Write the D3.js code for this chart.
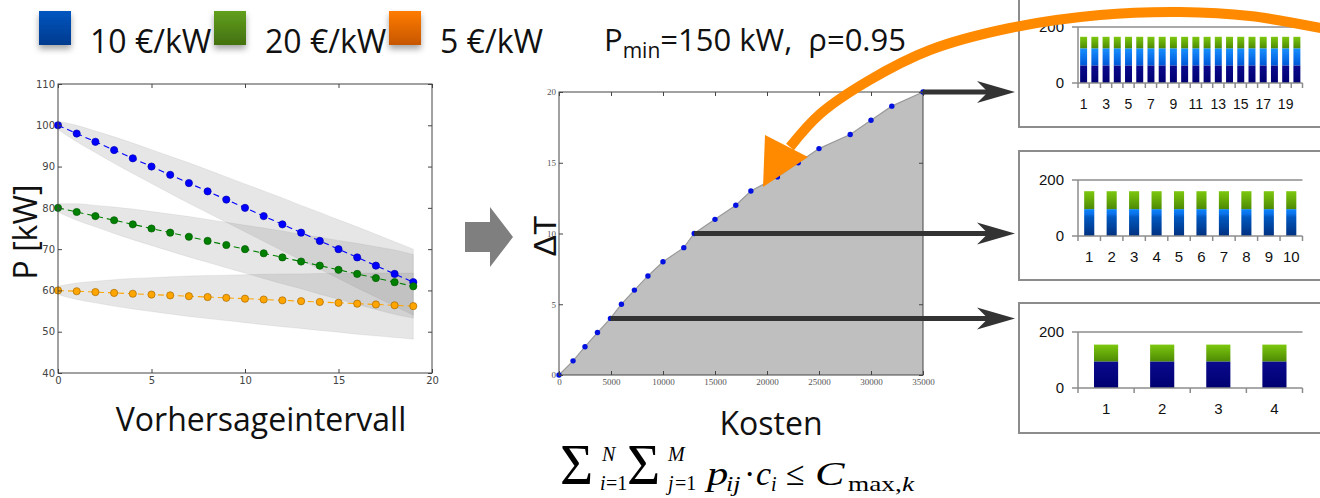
<!DOCTYPE html>
<html>
<head>
<meta charset="utf-8">
<script src="https://cdn.jsdelivr.net/npm/d3@7"></script>
<style>
body { margin: 0; background: #fff; }
text { white-space: pre; }
</style>
</head>
<body>
<div id="chart"></div>
<script>
// legend
var tariffs = ['10 €/kW', '20 €/kW', '5 €/kW'];

// left chart: forecast per interval
var intervals = [0,1,2,3,4,5,6,7,8,9,10,11,12,13,14,15,16,17,18,19];
var p10 = [100,98,96,94,92,90,88,86,84,82,80,78,76,74,72,70,68,66,64,62];
var p10Hi = [101,100,98.6,97.2,95.7,94.1,92.5,90.9,89.2,87.5,85.8,84.1,82.4,80.6,78.9,77.1,75.4,73.6,71.8,70];
var p10Lo = [99,96,93.4,90.8,88.3,85.9,83.5,81.1,78.8,76.5,74.2,71.9,69.6,67.4,65.1,62.9,60.6,58.4,56.2,54];
var p20 = [80,79,78,77,76,75,74,73,72,71,70,69,68,67,66,65,64,63,62,61];
var p20Hi = [81,81,80.6,80.2,79.7,79.1,78.5,77.9,77.2,76.5,75.8,75.1,74.4,73.6,72.9,72.1,71.4,70.6,69.8,68.7];
var p20Lo = [79,77,75.4,73.8,72.3,70.9,69.5,68.1,66.8,65.5,64.2,62.9,61.6,60.4,59.1,57.9,56.6,55.4,54.2,53.3];
var p5 = [60,59.8,59.6,59.4,59.2,59,58.8,58.6,58.4,58.2,58,57.8,57.6,57.4,57.2,57,56.8,56.6,56.4,56.2];
var p5Hi = [61,61.8,62.2,62.6,62.9,63.1,63.3,63.5,63.6,63.7,63.8,63.9,64,64,64.1,64.1,64.2,64.2,64.2,64.2];
var p5Lo = [59,57.8,57,56.2,55.5,54.9,54.3,53.7,53.2,52.7,52.2,51.7,51.2,50.8,50.3,49.9,49.4,49,48.6,48.2];
var leftXTicks = [0,5,10,15,20];
var leftYTicks = [40,50,60,70,80,90,100,110];

// middle chart: cost vs delta T
var cost = [0,1350,2500,3700,4950,6000,7250,8550,10000,12000,13000,15000,17000,18450,21000,23000,25000,28000,30000,32000,35000];
var deltaT = [0,1,2,3,4,5,6,7,8,9,10,11,12,13,14,15,16,17,18,19,20];
var midXTicks = [0,5000,10000,15000,20000,25000,30000,35000];
var midYTicks = [0,5,10,15,20];

// right: three bar splits
var cats20 = ['1','2','3','4','5','6','7','8','9','10','11','12','13','14','15','16','17','18','19','20'];
var s20Navy = [63,63,63,63,63,63,63,63,63,63,63,63,63,63,63,63,63,63,63,63];
var s20Blue = [61,61,61,61,61,61,61,61,61,61,61,61,61,61,61,61,61,61,61,61];
var s20Green = [41,41,41,41,41,41,41,41,41,41,41,41,41,41,41,41,41,41,41,41];
var cats10 = ['1','2','3','4','5','6','7','8','9','10'];
var s10Blue = [96,96,96,96,96,96,96,96,96,96];
var s10Green = [64,64,64,64,64,64,64,64,64,64];
var cats4 = ['1','2','3','4'];
var s4Navy = [95,95,95,95];
var s4Green = [60,60,60,60];
var barTicks = [0, 200];

var svg = d3.select('#chart').append('svg')
  .attr('width', 1320).attr('height', 498)
  .style('font-family', '"Open Sans", sans-serif');
svg.append('rect').attr('width', 1320).attr('height', 498).attr('fill', '#fff');

var defs = svg.append('defs');
function vgrad(id, stops) {
  var g = defs.append('linearGradient').attr('id', id)
    .attr('x1', 0).attr('y1', 0).attr('x2', 0).attr('y2', 1);
  stops.forEach(function(s) {
    g.append('stop').attr('offset', s[0]).attr('stop-color', s[1]);
  });
}
vgrad('lgBlue', [['0%', '#0056c0'], ['100%', '#003a8e']]);
vgrad('lgGreen', [['0%', '#62a01e'], ['100%', '#43700f']]);
vgrad('lgOrange', [['0%', '#ff7c00'], ['100%', '#c65600']]);
vgrad('bNavy', [['0%', '#0a0a8e'], ['100%', '#000070']]);
vgrad('bBlue', [['0%', '#1890ff'], ['100%', '#0058d8']]);
vgrad('bBlue2', [['0%', '#0a84ff'], ['18%', '#0a70e8'], ['30%', '#0058c0'], ['100%', '#00307e']]);
vgrad('bGreen', [['0%', '#7cc80e'], ['100%', '#4e8a04']]);
var sh = defs.append('filter').attr('id', 'shadow').attr('x', '-30%').attr('y', '-30%').attr('width', '160%').attr('height', '170%');
sh.append('feDropShadow').attr('dx', 0).attr('dy', 4).attr('stdDeviation', 3)
  .attr('flood-color', '#000').attr('flood-opacity', 0.35);

// ---- legend
var legFill = ['url(#lgBlue)', 'url(#lgGreen)', 'url(#lgOrange)'];
var legX = d3.scalePoint().domain(tariffs).range([39, 389]);
var leg = svg.append('g');
leg.selectAll('rect').data(tariffs).enter().append('rect')
  .attr('x', function(d) { return legX(d); }).attr('y', 11)
  .attr('width', 32).attr('height', 34)
  .attr('fill', function(d, i) { return legFill[i]; })
  .attr('filter', 'url(#shadow)');
leg.selectAll('text').data(tariffs).enter().append('text')
  .attr('x', function(d) { return legX(d) + 51; }).attr('y', 53)
  .attr('font-size', 32).attr('fill', '#111')
  .text(function(d) { return d; });

var pm = svg.append('text').attr('x', 604).attr('y', 51).attr('font-size', 31).attr('fill', '#111');
pm.append('tspan').text('P');
pm.append('tspan').attr('font-size', 21).attr('dy', 7).text('min');
pm.append('tspan').attr('dy', -7).text('=150 kW,  ρ=0.95');

// ---- left chart
var xL = d3.scaleLinear().domain([0, 20]).range([58, 432]);
var yL = d3.scaleLinear().domain([40, 110]).range([373, 84]);
var gl = svg.append('g');

var fc = [
  { mean: p10, hi: p10Hi, lo: p10Lo, color: '#0000ff', edge: '#0000b0' },
  { mean: p20, hi: p20Hi, lo: p20Lo, color: '#008000', edge: '#005a00' },
  { mean: p5, hi: p5Hi, lo: p5Lo, color: '#ffa500', edge: '#a86a00' }
];
var band = d3.area()
  .x(function(d) { return xL(d.i); })
  .y0(function(d) { return yL(d.lo); })
  .y1(function(d) { return yL(d.hi); })
  .curve(d3.curveMonotoneX);
var meanLine = d3.line()
  .x(function(d) { return xL(d.i); })
  .y(function(d) { return yL(d.v); });

fc.forEach(function(s) {
  var rows = intervals.map(function(i, k) { return { i: i, lo: s.lo[k], hi: s.hi[k] }; });
  gl.append('path').attr('d', band(rows))
    .attr('fill', '#808080').attr('fill-opacity', 0.2)
    .attr('stroke', '#808080').attr('stroke-opacity', 0.15).attr('stroke-width', 0.8);
});
fc.forEach(function(s) {
  var rows = intervals.map(function(i, k) { return { i: i, v: s.mean[k] }; });
  gl.append('path').attr('d', meanLine(rows))
    .attr('fill', 'none').attr('stroke', s.color).attr('stroke-width', 1.1)
    .attr('stroke-dasharray', '6,4');
  gl.selectAll(null).data(rows).enter().append('circle')
    .attr('cx', function(d) { return xL(d.i); })
    .attr('cy', function(d) { return yL(d.v); })
    .attr('r', 3.6).attr('fill', s.color)
    .attr('stroke', s.edge).attr('stroke-width', 0.7);
});

function frame(g, x, y, xt, yt, fmt, font, fsize, color) {
  var r = x.range(), d = y.range();
  g.append('g').attr('transform', 'translate(0,' + d[0] + ')')
    .call(d3.axisBottom(x).tickValues(xt).tickSize(-4).tickSizeOuter(0).tickPadding(4).tickFormat(fmt));
  g.append('g').attr('transform', 'translate(0,' + d[1] + ')')
    .call(d3.axisTop(x).tickValues(xt).tickSize(-4).tickSizeOuter(0).tickFormat(''));
  g.append('g').attr('transform', 'translate(' + r[0] + ',0)')
    .call(d3.axisLeft(y).tickValues(yt).tickSize(-4).tickSizeOuter(0).tickPadding(3).tickFormat(fmt));
  g.append('g').attr('transform', 'translate(' + r[1] + ',0)')
    .call(d3.axisRight(y).tickValues(yt).tickSize(-4).tickSizeOuter(0).tickFormat(''));
  g.selectAll('.domain').remove();
  g.selectAll('.tick line').attr('stroke', '#444');
  g.selectAll('.tick text').attr('font-family', font).attr('font-size', fsize).attr('fill', color);
  g.append('rect').attr('x', r[0]).attr('y', d[1])
    .attr('width', r[1] - r[0]).attr('height', d[0] - d[1])
    .attr('fill', 'none').attr('stroke', '#444').attr('stroke-width', 1);
}
frame(gl.append('g'), xL, yL, leftXTicks, leftYTicks, d3.format('d'), '"DejaVu Sans", sans-serif', 10, '#444');

gl.append('text').attr('transform', 'translate(37,232) rotate(-90)')
  .attr('text-anchor', 'middle').attr('font-size', 32).attr('fill', '#111').text('P [kW]');
gl.append('text').attr('x', 261).attr('y', 431)
  .attr('text-anchor', 'middle').attr('font-size', 32).attr('fill', '#111').text('Vorhersageintervall');

// gray block arrow between charts
svg.append('path')
  .attr('d', 'M465,222 L490,222 L490,207 L513,237 L490,267 L490,252 L465,252 Z')
  .attr('fill', '#7f7f7f');

// ---- middle chart
var xM = d3.scaleLinear().domain([0, 35000]).range([559, 923]);
var yM = d3.scaleLinear().domain([0, 20]).range([375, 92]);
var gm = svg.append('g');
var pts = cost.map(function(c, k) { return { c: c, t: deltaT[k] }; });
gm.append('path')
  .attr('d', d3.area().x(function(d) { return xM(d.c); }).y0(yM(0)).y1(function(d) { return yM(d.t); })(pts))
  .attr('fill', '#bfbfbf');
gm.append('path')
  .attr('d', d3.line().x(function(d) { return xM(d.c); }).y(function(d) { return yM(d.t); })(pts))
  .attr('fill', 'none').attr('stroke', '#9a9a9a').attr('stroke-width', 1.2);
gm.selectAll('circle').data(pts).enter().append('circle')
  .attr('cx', function(d) { return xM(d.c); })
  .attr('cy', function(d) { return yM(d.t); })
  .attr('r', 2.7).attr('fill', '#0010e0');
frame(gm.append('g'), xM, yM, midXTicks, midYTicks, d3.format('d'), '"Liberation Serif", serif', 9, '#555');

gm.append('text').attr('transform', 'translate(556,236) rotate(-90)')
  .attr('text-anchor', 'middle').attr('font-family', '"Liberation Sans", sans-serif')
  .attr('font-size', 32).attr('fill', '#111').text('ΔT');
gm.append('text').attr('x', 771).attr('y', 435)
  .attr('text-anchor', 'middle').attr('font-size', 32).attr('fill', '#111').text('Kosten');

// formula
var fm = svg.append('g').attr('font-family', '"Liberation Serif", "Times New Roman", serif').attr('fill', '#000');
function ftxt(x, y, size, s, italic, sx) {
  fm.append('text').attr('transform', 'translate(' + x + ',' + y + ') scale(' + (sx || 1) + ',1)')
    .attr('font-size', size)
    .attr('font-style', italic ? 'italic' : 'normal').text(s);
}
ftxt(560, 484, 57, 'Σ');
ftxt(602, 461, 20, 'N', true);
ftxt(600, 490, 20, 'i', true); ftxt(606, 490, 20, '=1');
ftxt(627, 484, 57, 'Σ');
ftxt(668, 461, 20, 'M', true);
ftxt(668, 490, 20, 'j', true); ftxt(675, 490, 20, '=1');
ftxt(707, 485, 34, 'p', true, 1.25);
ftxt(726, 491, 20, 'ij', true, 1.3);
ftxt(744, 485, 34, '·');
ftxt(756, 485, 34, 'c', true);
ftxt(771, 491, 20, 'i', true);
ftxt(786, 485, 34, '≤');
ftxt(815, 485, 34, 'C', true, 1.3);
ftxt(848, 491, 21, 'max,', false, 1.3); ftxt(902, 491, 21, 'k', true, 1.3);

// ---- right: bar boxes
function barBox(cats, keys, arrays, fills, top, bottom, base, frac, labelEvery, lblSize) {
  var g = svg.append('g').attr('font-family', '"Liberation Sans", Arial, sans-serif');
  g.append('rect').attr('x', 1019).attr('y', top).attr('width', 340).attr('height', bottom - top)
    .attr('fill', '#fff').attr('stroke', '#8c8c8c').attr('stroke-width', 2);
  var x = d3.scaleBand().domain(cats).range([1078, 1302.5]).padding(0);
  var y = d3.scaleLinear().domain([0, 200]).range([base, base - 56]);
  var rows = cats.map(function(c, i) {
    var r = { cat: c };
    keys.forEach(function(k, j) { r[k] = arrays[j][i]; });
    return r;
  });
  var stacked = d3.stack().keys(keys)(rows);
  var w = x.bandwidth() * frac;
  stacked.forEach(function(layer, j) {
    g.selectAll(null).data(layer).enter().append('rect')
      .attr('x', function(d) { return x(d.data.cat) + (x.bandwidth() - w) / 2; })
      .attr('y', function(d) { return y(d[1]); })
      .attr('width', w)
      .attr('height', function(d) { return y(d[0]) - y(d[1]); })
      .attr('fill', fills[j]);
  });
  var ax = '#8c8c8c';
  g.append('line').attr('x1', 1078).attr('x2', 1302.5).attr('y1', y(200)).attr('y2', y(200)).attr('stroke', ax).attr('stroke-width', 1.5);
  g.append('line').attr('x1', 1078).attr('x2', 1078).attr('y1', y(0)).attr('y2', y(200)).attr('stroke', ax).attr('stroke-width', 1.5);
  g.append('line').attr('x1', 1078).attr('x2', 1302.5).attr('y1', y(0)).attr('y2', y(0)).attr('stroke', ax).attr('stroke-width', 1.5);
  g.selectAll(null).data(barTicks).enter().append('line')
    .attr('x1', 1072).attr('x2', 1078).attr('y1', function(d) { return y(d); }).attr('y2', function(d) { return y(d); })
    .attr('stroke', ax).attr('stroke-width', 1.5);
  g.selectAll(null).data(barTicks).enter().append('text')
    .attr('x', 1064).attr('y', function(d) { return y(d); }).attr('dy', '0.36em')
    .attr('text-anchor', 'end').attr('font-size', 15).attr('fill', '#111')
    .text(function(d) { return d; });
  var edges = cats.map(function(c) { return x(c); }).concat([1302.5]);
  g.selectAll(null).data(edges).enter().append('line')
    .attr('x1', function(d) { return d; }).attr('x2', function(d) { return d; })
    .attr('y1', y(0)).attr('y2', y(0) + 5).attr('stroke', ax).attr('stroke-width', 1.5);
  g.selectAll(null).data(cats.filter(function(c, i) { return i % labelEvery === 0; })).enter().append('text')
    .attr('x', function(d) { return x(d) + x.bandwidth() / 2; }).attr('y', y(0) + 26)
    .attr('text-anchor', 'middle').attr('font-size', lblSize).attr('fill', '#111')
    .text(function(d) { return d; });
}
barBox(cats20, ['navy', 'blue', 'green'], [s20Navy, s20Blue, s20Green],
  ['url(#bNavy)', 'url(#bBlue)', 'url(#bGreen)'], -10, 127, 83, 0.62, 2, 14);
barBox(cats10, ['blue', 'green'], [s10Blue, s10Green],
  ['url(#bBlue2)', 'url(#bGreen)'], 151, 280, 236, 0.45, 1, 15);
barBox(cats4, ['navy', 'green'], [s4Navy, s4Green],
  ['url(#bNavy)', 'url(#bGreen)'], 303, 433, 388, 0.43, 1, 15);

// dark arrows from the cost curve to the boxes
var picks = [20, 10, 4];
var ga = svg.append('g').attr('fill', '#333').attr('stroke', '#333');
picks.forEach(function(k) {
  var x0 = xM(cost[k]), yy = yM(deltaT[k]);
  ga.append('line').attr('x1', x0).attr('x2', 990).attr('y1', yy).attr('y2', yy).attr('stroke-width', 5);
  ga.append('path').attr('stroke', 'none')
    .attr('d', 'M1015,' + yy + ' L977,' + (yy - 11) + ' L988,' + yy + ' L977,' + (yy + 11) + ' Z');
});

// orange curved arrow
var arcPts = [[1340, 32], [1250, 16], [1180, 12], [1100, 15], [1010, 28], [930, 50], [868, 81], [820, 114], [790, 147]];
svg.append('path')
  .attr('d', d3.line().curve(d3.curveCatmullRom)(arcPts))
  .attr('fill', 'none').attr('stroke', '#ff8a00').attr('stroke-width', 10);
svg.append('path').attr('d', 'M765,135 L808,157 L763,187 Z').attr('fill', '#ff8a00');
</script>
</body>
</html>
